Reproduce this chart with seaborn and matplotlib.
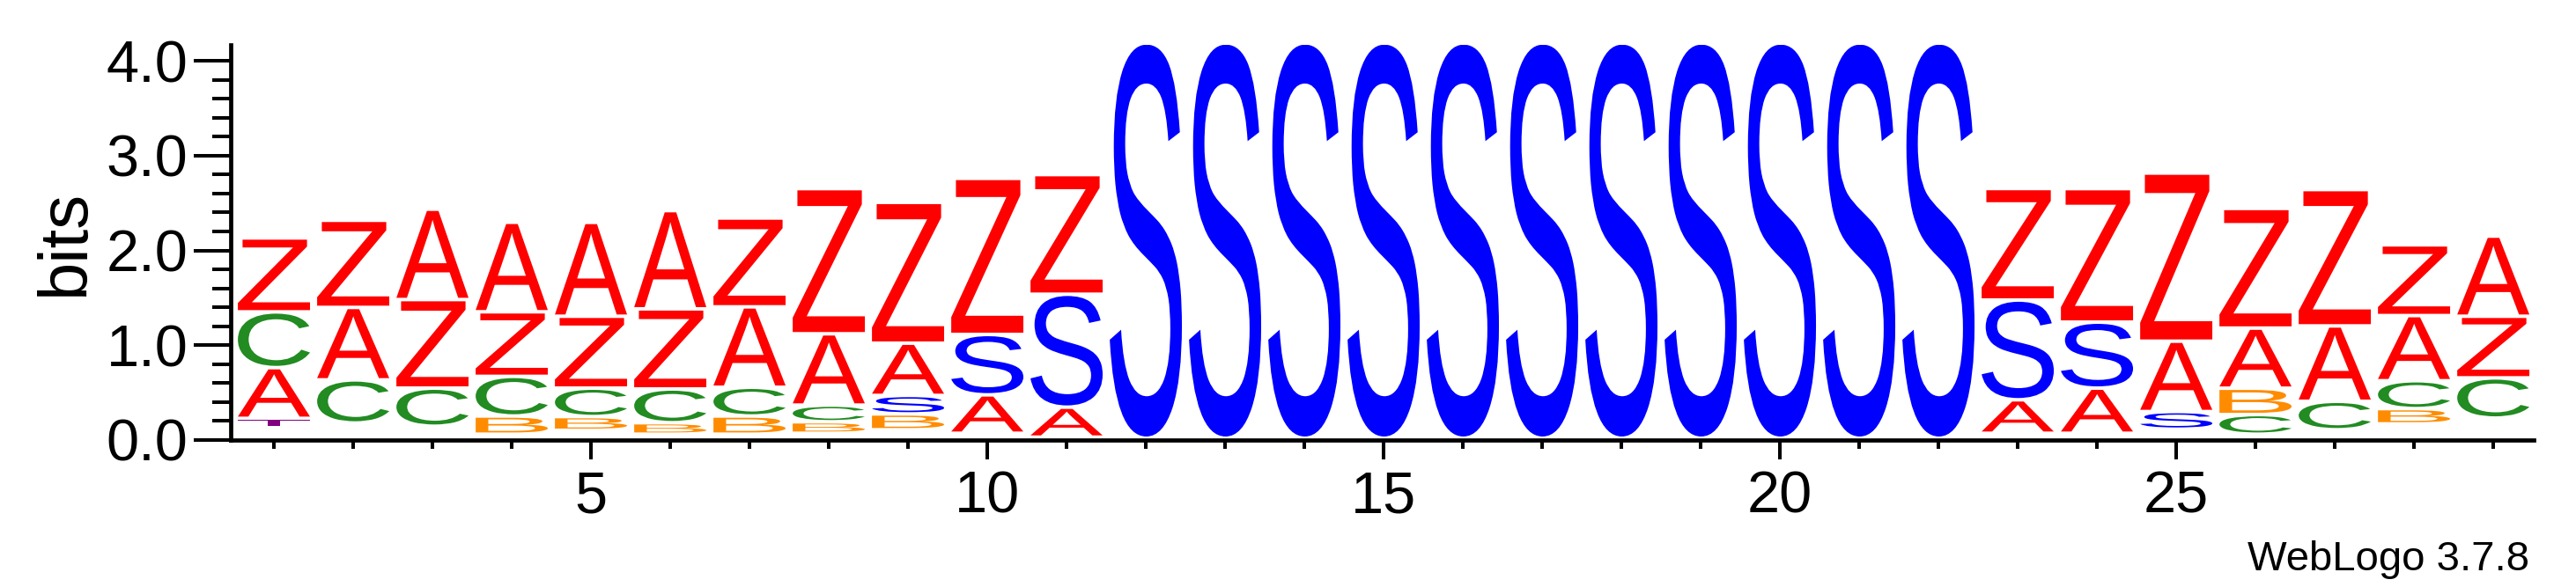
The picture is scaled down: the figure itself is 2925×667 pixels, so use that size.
import numpy as np
import pandas as pd
import matplotlib
matplotlib.use("Agg")
import matplotlib.pyplot as plt
import seaborn as sns
from matplotlib.textpath import TextPath
from matplotlib.font_manager import FontProperties
from matplotlib.patches import PathPatch
from matplotlib.transforms import Affine2D
from matplotlib.ticker import MultipleLocator, FixedLocator, FormatStrFormatter

# sequence logo data (bits per letter at each position)
positions = list(range(1, 30))
A_bits = [0.535, 0.764, 0.953, 0.944, 0.990, 1.036, 0.848, 0.752, 0.551, 0.405, 0.316,
          0, 0, 0, 0, 0, 0, 0, 0, 0, 0, 0,
          0.353, 0.476, 0.742, 0.634, 0.795, 0.687, 0.845]
Z_bits = [0.780, 0.919, 0.934, 0.681, 0.758, 0.845, 0.937, 1.531, 1.485, 1.646, 1.262,
          0, 0, 0, 0, 0, 0, 0, 0, 0, 0, 0,
          1.176, 1.408, 1.773, 1.262, 1.438, 0.746, 0.650]
C_bits = [0.588, 0.455, 0.402, 0.418, 0.300, 0.356, 0.303, 0.176, 0, 0, 0,
          0, 0, 0, 0, 0, 0, 0, 0, 0, 0, 0,
          0, 0, 0, 0.207, 0.300, 0.294, 0.424]
B_bits = [0, 0, 0, 0.192, 0.145, 0.121, 0.192, 0.121, 0.167, 0, 0,
          0, 0, 0, 0, 0, 0, 0, 0, 0, 0, 0,
          0, 0, 0, 0.278, 0, 0.161, 0]
S_bits = [0, 0, 0, 0, 0, 0, 0, 0, 0.195, 0.637, 1.191,
          4.17, 4.17, 4.17, 4.17, 4.17, 4.17, 4.17, 4.17, 4.17, 4.17, 4.17,
          1.052, 0.696, 0.186, 0, 0, 0, 0]
T_bits = [0.099] + [0] * 28
# summed height of the many tiny (invisible) letters at the bottom of each stack
minor_bits = [0.111, 0.161, 0.127, 0.043, 0.084, 0.043, 0.043, 0.053, 0.090, 0.053, 0.012,
              0, 0, 0, 0, 0, 0, 0, 0, 0, 0, 0,
              0.053, 0.053, 0.096, 0.043, 0.090, 0.152, 0.213]

colors = {"A": "#ff0000", "Z": "#ff0000", "C": "#228b22", "B": "#ff8c00",
          "S": "#0000ff", "T": "#800080"}

df = pd.DataFrame({"pos": positions, "A": A_bits, "Z": Z_bits, "C": C_bits,
                   "B": B_bits, "S": S_bits, "T": T_bits})
df = df.melt(id_vars="pos", var_name="letter", value_name="bits")
df = df[df["bits"] > 0]

sns.set_style("ticks")
plt.rcParams["font.family"] = ["Liberation Sans", "DejaVu Sans"]
for key in ["axes.edgecolor", "xtick.color", "ytick.color", "text.color",
            "axes.labelcolor", "xtick.labelcolor", "ytick.labelcolor"]:
    plt.rcParams[key] = "black"

fig = plt.figure(figsize=(29.25, 6.67), dpi=100)
ax = fig.add_axes([262 / 2925, 1 - 500 / 667, (2877 - 262) / 2925, (500 - 50.7) / 667])

fp = FontProperties(family="Liberation Sans")
letter_w = 0.91
gap = 0.037  # small blank at the bottom of each letter box


def draw_letter(ch, x, y0, h):
    gh = h - gap
    if gh <= 0.003:
        return
    tp = TextPath((0, 0), ch, size=1, prop=fp)
    bb = tp.get_extents()
    tr = (Affine2D().translate(-bb.x0, -bb.y0)
          .scale(letter_w / bb.width, gh / bb.height)
          .translate(x - letter_w / 2, y0 + gap))
    ax.add_patch(PathPatch(tr.transform_path(tp), facecolor=colors[ch],
                           edgecolor="none", lw=0))


for pos, grp in df.groupby("pos"):
    y = minor_bits[pos - 1]
    for _, row in grp.sort_values("bits").iterrows():
        draw_letter(row["letter"], pos, y, row["bits"])
        y += row["bits"]

ax.set_xlim(0.455, 29.51)
ax.set_ylim(0, 4.17)
sns.despine(ax=ax)
for s in ["left", "bottom"]:
    ax.spines[s].set_linewidth(3.4)
    ax.spines[s].set_color("black")

ax.xaxis.set_major_locator(FixedLocator([5, 10, 15, 20, 25]))
ax.xaxis.set_minor_locator(MultipleLocator(1))
ax.yaxis.set_major_locator(MultipleLocator(1))
ax.yaxis.set_minor_locator(MultipleLocator(0.2))
ax.yaxis.set_major_formatter(FormatStrFormatter("%.1f"))
ax.tick_params(axis="y", which="major", direction="out", length=30, width=2.9,
               labelsize=48, pad=5, color="black", labelcolor="black")
ax.tick_params(axis="y", which="minor", direction="out", length=15, width=2.9,
               color="black")
ax.tick_params(axis="x", which="major", direction="out", length=16, width=2.9,
               labelsize=48, pad=9, color="black", labelcolor="black")
ax.tick_params(axis="x", which="minor", direction="out", length=7, width=2.9,
               color="black")

ax.set_ylabel("bits", fontsize=56, labelpad=7, color="black")
fig.text(2872 / 2925, 1 - 648 / 667, "WebLogo 3.7.8", ha="right", va="baseline",
         fontsize=34, color="black")

fig.savefig("out.png", dpi=100)
